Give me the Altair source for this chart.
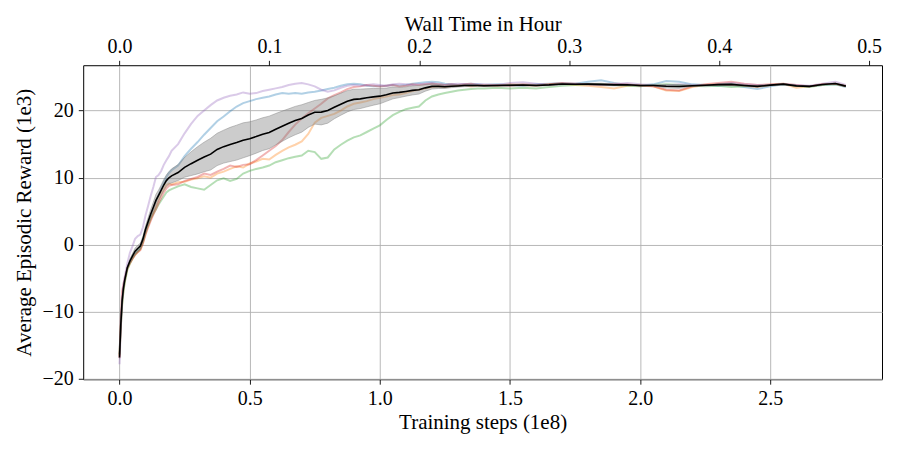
import altair as alt
import pandas as pd

# Training steps (1e8)
STEPS = [0.000, 0.005, 0.010, 0.015, 0.020, 0.030, 0.040, 0.050, 0.060, 0.070, 0.080, 0.090,
         0.100, 0.110, 0.120, 0.130, 0.140, 0.150, 0.160, 0.170, 0.180, 0.190, 0.200,
         0.225, 0.250, 0.275, 0.300, 0.325, 0.350, 0.375, 0.400, 0.425, 0.450, 0.475, 0.500,
         0.525, 0.550, 0.575, 0.600, 0.625, 0.650, 0.675, 0.700, 0.725, 0.750, 0.775, 0.800,
         0.825, 0.850, 0.875, 0.900, 0.925, 0.950, 0.975, 1.000, 1.025, 1.050, 1.075, 1.100,
         1.125, 1.150, 1.175, 1.200, 1.225, 1.250, 1.275, 1.300, 1.325, 1.350, 1.375, 1.400,
         1.450, 1.500, 1.550, 1.600, 1.650, 1.700, 1.750, 1.800, 1.850, 1.900, 1.950, 2.000,
         2.050, 2.100, 2.150, 2.200, 2.250, 2.300, 2.350, 2.400, 2.450, 2.500, 2.550, 2.600,
         2.650, 2.700, 2.750, 2.790]

# Average episodic reward (1e3) for each run
RUN_BLUE = [-16.3, -11.6, -8.6, -6.7, -5.4, -3.5, -2.6, -1.9, -1.3, -0.9, -0.4, 0.7,
            2.1, 3.2, 4.3, 5.4, 6.5, 7.4, 8.4, 9.3, 10.1, 10.7, 11.1,
            11.8, 13.2, 14.3, 15.3, 16.4, 17.4, 18.4, 19.1, 19.9, 20.6, 21.1, 21.4,
            21.7, 21.9, 22.1, 22.4, 22.6, 22.5, 22.6, 22.5, 22.7, 22.8, 23.0, 23.2,
            23.4, 23.7, 23.9, 24.0, 23.9, 23.7, 23.6, 23.6, 23.7, 23.8, 23.7, 23.8,
            24.0, 24.1, 24.2, 24.3, 24.2, 24.0, 23.9, 23.8, 23.9, 24.0, 23.9, 23.8,
            23.9, 23.8, 23.7, 23.9, 24.0, 24.1, 24.0, 24.3, 24.5, 24.1, 23.8, 23.7,
            23.9, 24.4, 24.3, 23.9, 23.8, 23.7, 23.8, 23.5, 23.2, 23.6, 23.9, 23.7,
            23.6, 23.8, 23.9, 23.5]
RUN_ORANGE = [-16.6, -12.1, -8.9, -6.9, -5.6, -3.7, -2.8, -2.1, -1.5, -1.1, -0.7, 0.3,
              1.7, 2.8, 3.8, 4.8, 5.8, 6.7, 7.6, 8.3, 8.9, 9.1, 9.0,
              9.3, 9.4, 9.7, 9.9, 10.2, 10.0, 10.6, 10.9, 11.3, 11.7, 11.5, 12.1,
              12.4, 12.8, 12.7, 13.4, 14.0, 14.5, 14.9, 15.4, 16.5, 18.2, 18.9, 19.2,
              19.5, 20.0, 20.6, 21.0, 21.2, 21.4, 21.7, 21.9, 22.1, 22.3, 22.4, 22.6,
              22.9, 23.1, 23.3, 23.5, 23.6, 23.5, 23.6, 23.7, 23.8, 23.6, 23.7, 23.8,
              23.7, 23.9, 23.8, 23.7, 23.9, 24.0, 23.8, 23.7, 23.5, 23.3, 23.7, 23.8,
              23.6, 23.0, 22.9, 23.5, 23.8, 23.9, 23.8, 23.7, 23.5, 23.8, 24.0, 23.4,
              23.6, 23.9, 24.0, 23.7]
RUN_GREEN = [-16.4, -12.2, -9.0, -7.0, -5.6, -3.7, -2.8, -2.0, -1.4, -1.0, -0.6, 0.4,
             1.8, 2.9, 3.9, 4.6, 5.3, 6.0, 6.6, 7.2, 7.8, 8.1, 8.3,
             8.7, 9.0, 8.6, 8.4, 8.2, 8.9, 9.6, 9.9, 9.5, 9.8, 10.6, 11.0,
             11.3, 11.5, 11.8, 12.3, 12.6, 12.9, 13.1, 13.3, 14.0, 13.8, 12.8, 13.0,
             14.2, 14.9, 15.5, 16.0, 16.3, 16.8, 17.3, 17.8, 18.6, 19.3, 19.8, 20.2,
             20.4, 20.6, 21.5, 22.1, 22.4, 22.6, 22.8, 23.0, 23.1, 23.2, 23.3, 23.3,
             23.4, 23.3, 23.4, 23.3, 23.5, 23.7, 23.8, 23.9, 23.9, 23.8, 23.7, 23.6,
             23.8, 23.9, 23.8, 23.7, 23.6, 23.7, 23.5, 23.6, 23.7, 23.8, 23.9, 23.7,
             23.5, 23.8, 23.9, 23.6]
RUN_RED = [-16.9, -11.0, -6.9, -5.9, -5.0, -3.4, -2.7, -2.1, -1.5, -1.1, -0.8, 0.2,
           1.5, 2.6, 3.6, 4.5, 5.3, 6.2, 7.0, 7.8, 8.4, 8.8, 8.9,
           9.0, 9.5, 9.8, 10.1, 10.6, 10.4, 10.9, 11.3, 11.8, 11.6, 11.9, 12.0,
           12.6, 13.3, 14.0, 14.7, 15.6, 16.8, 17.9, 18.8, 19.6, 20.3, 21.0, 21.8,
           22.3, 22.7, 23.2, 23.5, 23.6, 23.8, 23.7, 23.6, 23.7, 23.8, 23.6, 23.7,
           23.9, 23.8, 23.9, 24.0, 23.9, 23.8, 23.9, 23.8, 23.9, 24.0, 23.8, 23.7,
           23.8, 23.7, 23.9, 23.8, 23.9, 24.1, 24.0, 23.9, 23.8, 24.0, 23.9, 23.7,
           23.6, 23.1, 23.0, 23.6, 23.9, 24.1, 24.3, 24.0, 23.8, 23.9, 24.0, 23.8,
           23.6, 23.9, 24.0, 23.6]
RUN_PURPLE = [-17.8, -12.5, -8.5, -6.0, -4.8, -2.8, -1.2, -0.2, 0.9, 1.3, 1.5, 2.6,
              4.4, 5.8, 7.3, 8.6, 10.1, 10.4, 11.0, 11.9, 12.6, 13.2, 14.0,
              15.0, 16.6, 18.0, 19.2, 20.0, 20.8, 21.5, 21.9, 22.2, 22.4, 22.7, 22.5,
              22.6, 22.9, 23.1, 23.3, 23.5, 23.8, 24.0, 24.1, 23.9, 23.6, 23.1, 22.8,
              23.0, 23.4, 23.7, 23.8, 23.7, 23.8, 23.9, 23.8, 23.7, 23.9, 24.0, 23.9,
              23.8, 23.9, 24.0, 24.1, 23.9, 23.8, 23.9, 24.0, 23.9, 23.8, 23.9, 23.9,
              23.8, 24.1, 24.2, 24.0, 23.8, 23.9, 24.0, 23.9, 23.8, 23.9, 24.1, 23.9,
              23.8, 23.7, 23.9, 23.8, 23.7, 23.9, 24.1, 23.9, 23.8, 23.8, 23.9, 23.8,
              23.7, 24.0, 24.3, 23.8]

RUN_NAMES = ["run1", "run2", "run3", "run4", "run5"]
RUN_COLORS = ["#1f77b4", "#ff7f0e", "#2ca02c", "#d62728", "#9467bd"]
HOUR_TICKS = [0.0, 0.1, 0.2, 0.3, 0.4, 0.5]

runs = [RUN_BLUE, RUN_ORANGE, RUN_GREEN, RUN_RED, RUN_PURPLE]
rows = []
for name, vals in zip(RUN_NAMES, runs):
    for s, r in zip(STEPS, vals):
        rows.append({"step": s, "reward": r, "run": name})
df = pd.DataFrame(rows)
hours_df = pd.DataFrame({"hour": HOUR_TICKS})

FONT = "Liberation Serif"
x_scale = alt.Scale(domain=[-0.1395, 2.929], nice=False, zero=False)
y_scale = alt.Scale(domain=[-20.05, 26.75], nice=False, zero=False)

x_axis = alt.Axis(title="Training steps (1e8)", values=[0.0, 0.5, 1.0, 1.5, 2.0, 2.5],
                  format=".1f", grid=True, orient="bottom", titlePadding=3)
y_axis = alt.Axis(title="Average Episodic Reward (1e3)", values=[-20, -10, 0, 10, 20],
                  format="d", grid=True, labelPadding=5, titlePadding=8)

base = alt.Chart(df)

band = base.mark_errorband(extent="stderr", color="#808080", opacity=0.4,
                           borders={"color": "#808080", "opacity": 0.45, "strokeWidth": 1}).encode(
    x=alt.X("step:Q", scale=x_scale, axis=x_axis),
    y=alt.Y("reward:Q", scale=y_scale, axis=y_axis),
)

lines = base.mark_line(strokeWidth=2, opacity=0.35).encode(
    x=alt.X("step:Q", scale=x_scale, axis=x_axis),
    y=alt.Y("reward:Q", scale=y_scale, axis=y_axis),
    color=alt.Color("run:N", scale=alt.Scale(domain=RUN_NAMES, range=RUN_COLORS), legend=None),
    detail="run:N",
)

mean_line = base.mark_line(strokeWidth=1.6, color="black").encode(
    x=alt.X("step:Q", scale=x_scale, axis=x_axis),
    y=alt.Y("mean(reward):Q", scale=y_scale, axis=y_axis),
)

bottom = alt.layer(lines, band, mean_line)

top = alt.Chart(hours_df).mark_rule(opacity=0).encode(
    x=alt.X("hour:Q",
            scale=alt.Scale(domain=[-0.0242, 0.5086], nice=False, zero=False),
            axis=alt.Axis(title="Wall Time in Hour", orient="top", values=HOUR_TICKS,
                          format=".1f", grid=False, titlePadding=2)),
)

chart = alt.layer(bottom, top).resolve_scale(x="independent").properties(
    width=800, height=314.5,
    autosize=alt.AutoSizeParams(type="none"),
    padding={"left": 75.3, "top": 57, "right": 10, "bottom": 62},
).configure_view(
    stroke="black", strokeWidth=1
).configure_axis(
    domain=False,
    labelFont=FONT, titleFont=FONT,
    labelFontSize=20, titleFontSize=21,
    labelColor="black", titleColor="black",
    titleFontWeight="normal",
    tickColor="black", tickSize=4.9, tickWidth=0.9,
    labelPadding=4,
    gridColor="#b0b0b0", gridWidth=0.9,
    labelFlush=False,
)

chart.save("out.html", embed_options={"renderer": "svg", "actions": False})
